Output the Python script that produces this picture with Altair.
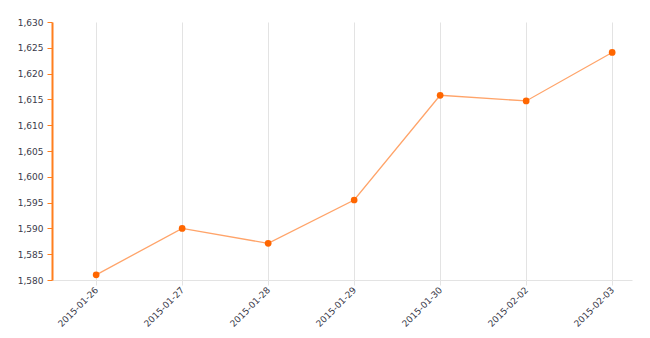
import altair as alt
import pandas as pd

dates = ["2015-01-26", "2015-01-27", "2015-01-28", "2015-01-29", "2015-01-30", "2015-02-02", "2015-02-03"]
values = [1581.0, 1590.0, 1587.1, 1595.5, 1615.8, 1614.7, 1624.1]

df = pd.DataFrame({"date": dates, "value": values})

x = alt.X("date:O", sort=dates,
          scale=alt.Scale(type="point", padding=0.372, align=0.69),
          axis=alt.Axis(title=None, labelAngle=-45, labelAlign="right", labelBaseline="middle",
                        grid=True, gridColor="#e3e3e3", domainColor="#e3e3e3", tickColor="#e3e3e3",
                        tickSize=5, labelColor="#3a3a4a", labelFont="DejaVu Sans", labelFontSize=9,
                        labelPadding=3))
y = alt.Y("value:Q",
          scale=alt.Scale(domain=[1580, 1630], nice=False, zero=False),
          axis=alt.Axis(title=None, values=list(range(1580, 1631, 5)), format=",",
                        grid=False, domainColor="#ff7f1e", domainWidth=2, tickColor="#ff7f1e",
                        tickSize=5, labelColor="#3a3a4a", labelFont="DejaVu Sans", labelFontSize=9,
                        labelPadding=4))

line = alt.Chart(df).mark_line(color="#ffa46a", strokeWidth=1.3).encode(x=x, y=y)
pts = alt.Chart(df).mark_point(filled=True, color="#ff6600", size=45, opacity=1).encode(x=x, y=y)

chart = (line + pts).properties(
    width=580, height=258,
    autosize=alt.AutoSizeParams(type="none"),
    padding={"left": 52, "top": 22, "right": 18, "bottom": 58},
).configure(background="white").configure_view(stroke=None, strokeWidth=0)

chart.save("out.html", embed_options={"renderer": "svg", "actions": False})
